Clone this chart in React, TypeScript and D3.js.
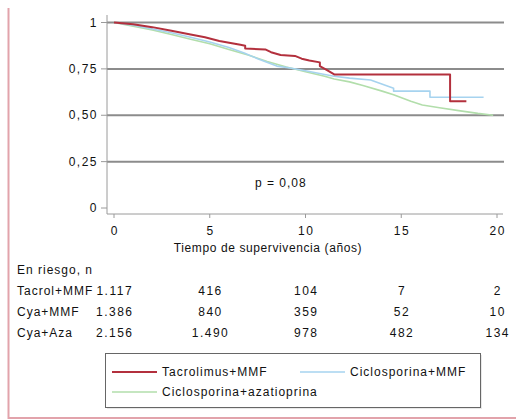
import React from "react";
import * as d3 from "d3";

// Kaplan-Meier readings (t in years, survival); repeated t = vertical step
const tacroT = [0, 1, 2, 3, 4, 4.75, 5.5, 6.6, 6.85, 6.85, 7.9, 8.2, 8.7, 9.45, 9.8, 10.2, 10.75, 10.75, 11.1, 11.5, 17.55, 17.55, 18.4];
const tacroS = [1, 0.99, 0.975, 0.955, 0.935, 0.92, 0.9, 0.88, 0.875, 0.86, 0.855, 0.84, 0.825, 0.82, 0.805, 0.795, 0.785, 0.765, 0.745, 0.72, 0.72, 0.575, 0.575];

const cyaMmfT = [0, 1, 2, 3, 4, 5, 6, 6.8, 7.5, 8.5, 9.2, 10, 11, 11.5, 12.3, 13.4, 13.8, 14.2, 14.6, 14.6, 16.5, 16.5, 19.3];
const cyaMmfS = [1, 0.985, 0.965, 0.945, 0.92, 0.895, 0.865, 0.835, 0.805, 0.765, 0.755, 0.74, 0.72, 0.71, 0.7, 0.69, 0.675, 0.66, 0.645, 0.63, 0.63, 0.597, 0.597];

const cyaAzaT = [0, 1, 2, 3, 4, 5, 6, 7, 8, 9, 10, 11, 11.5, 12.3, 13, 14, 14.6, 15.5, 16.1, 17, 18, 19, 19.8];
const cyaAzaS = [1, 0.98, 0.96, 0.935, 0.91, 0.885, 0.855, 0.825, 0.79, 0.76, 0.735, 0.71, 0.695, 0.68, 0.66, 0.63, 0.61, 0.575, 0.555, 0.54, 0.525, 0.51, 0.5];

const yTicks = [0, 0.25, 0.5, 0.75, 1];
const yTickLabels = ["0", "0,25", "0,50", "0,75", "1"];
const xTicks = [0, 5, 10, 15, 20];

const riskGroups = ["Tacrol+MMF", "Cya+MMF", "Cya+Aza"];
const riskTacro = ["1.117", "416", "104", "7", "2"];
const riskCyaMmf = ["1.386", "840", "359", "52", "10"];
const riskCyaAza = ["2.156", "1.490", "978", "482", "134"];

const seriesNames = ["Tacrolimus+MMF", "Ciclosporina+MMF", "Ciclosporina+azatioprina"];
const seriesColors = ["#b3303d", "#a6d3ef", "#b2deab"];

const FONT = "'Liberation Sans', Arial, sans-serif";

export default function App() {
  const x = d3.scaleLinear().domain([0, 20]).range([114, 497]);
  const y = d3.scaleLinear().domain([0, 1]).range([208, 22.5]);
  const line = d3
    .line<[number, number]>()
    .x((d) => x(d[0]))
    .y((d) => y(d[1]))
    .curve(d3.curveLinear);

  const series = [
    { t: cyaAzaT, s: cyaAzaS, c: seriesColors[2], w: 1.6 },
    { t: cyaMmfT, s: cyaMmfS, c: seriesColors[1], w: 1.6 },
    { t: tacroT, s: tacroS, c: seriesColors[0], w: 2 },
  ];
  const riskRows = [riskTacro, riskCyaMmf, riskCyaAza];
  const rowY = [291, 312, 333];

  const txt = { fontFamily: FONT, fontSize: 12, fill: "#111" } as const;

  return (
    <svg width={516} height={420} style={{ position: "absolute", left: 0, top: 0 }}>
      <rect x={0} y={0} width={516} height={420} fill="#fff" />
      {/* frame */}
      <line x1={8.5} y1={8} x2={8.5} y2={419} stroke="#e2a3ab" strokeWidth={2} />
      <line x1={8} y1={418} x2={516} y2={418} stroke="#e2a3ab" strokeWidth={2} />

      {/* gridlines */}
      {yTicks.filter((v) => v > 0).map((v) => (
        <line key={v} x1={107} x2={504} y1={y(v)} y2={y(v)} stroke="#8c8c8c" strokeWidth={2} />
      ))}

      {/* y axis */}
      <line x1={107} x2={107} y1={15} y2={214} stroke="#9a9a9a" strokeWidth={1} />
      {yTicks.map((v, i) => (
        <g key={v}>
          <line x1={101} x2={107} y1={y(v)} y2={y(v)} stroke="#9a9a9a" strokeWidth={1} />
          <text x={98} y={y(v) + 4} textAnchor="end" {...txt} letterSpacing={1.5}>
            {yTickLabels[i]}
          </text>
        </g>
      ))}

      {/* x axis */}
      <line x1={107} x2={503} y1={214} y2={214} stroke="#9a9a9a" strokeWidth={1} />
      {xTicks.map((t) => (
        <g key={t}>
          <line x1={x(t)} x2={x(t)} y1={214} y2={218} stroke="#9a9a9a" strokeWidth={1} />
          <text x={x(t) + 0.75} y={235} textAnchor="middle" {...txt} letterSpacing={1.5}>
            {t}
          </text>
        </g>
      ))}
      <text x={268} y={252} textAnchor="middle" {...txt} letterSpacing={0.6}>
        Tiempo de supervivencia (años)
      </text>

      {/* curves */}
      {series.map((sr, i) => (
        <path
          key={i}
          d={line(sr.t.map((t, j) => [t, sr.s[j]] as [number, number])) || ""}
          fill="none"
          stroke={sr.c}
          strokeWidth={sr.w}
          strokeLinejoin="round"
        />
      ))}

      <text x={255} y={187} {...txt} letterSpacing={1}>
        p = 0,08
      </text>

      {/* risk table */}
      <text x={17} y={274} {...txt} letterSpacing={1}>
        En riesgo, n
      </text>
      {riskGroups.map((g, i) => (
        <g key={g}>
          <text x={17} y={rowY[i] + 4} {...txt} letterSpacing={1}>
            {g}
          </text>
          {riskRows[i].map((n, j) => (
            <text key={j} x={x(xTicks[j]) + 0.75} y={rowY[i] + 4} textAnchor="middle" {...txt} letterSpacing={1.5}>
              {n}
            </text>
          ))}
        </g>
      ))}

      {/* legend */}
      <rect x={107} y={355} width={375} height={54} fill="#e8e8e8" />
      <rect x={105.5} y={353.5} width={375} height={54} fill="#fff" stroke="#666" strokeWidth={1} />
      {[0, 1, 2].map((i) => {
        const lx = i === 1 ? 300 : 112;
        const ly = i === 2 ? 392 : 372;
        return (
          <g key={i}>
            <line x1={lx} x2={lx + 45} y1={ly} y2={ly} stroke={seriesColors[i]} strokeWidth={i === 0 ? 2 : 1.6} />
            <text x={lx + 50} y={ly + 4} {...txt} letterSpacing={1}>
              {seriesNames[i]}
            </text>
          </g>
        );
      })}
    </svg>
  );
}
